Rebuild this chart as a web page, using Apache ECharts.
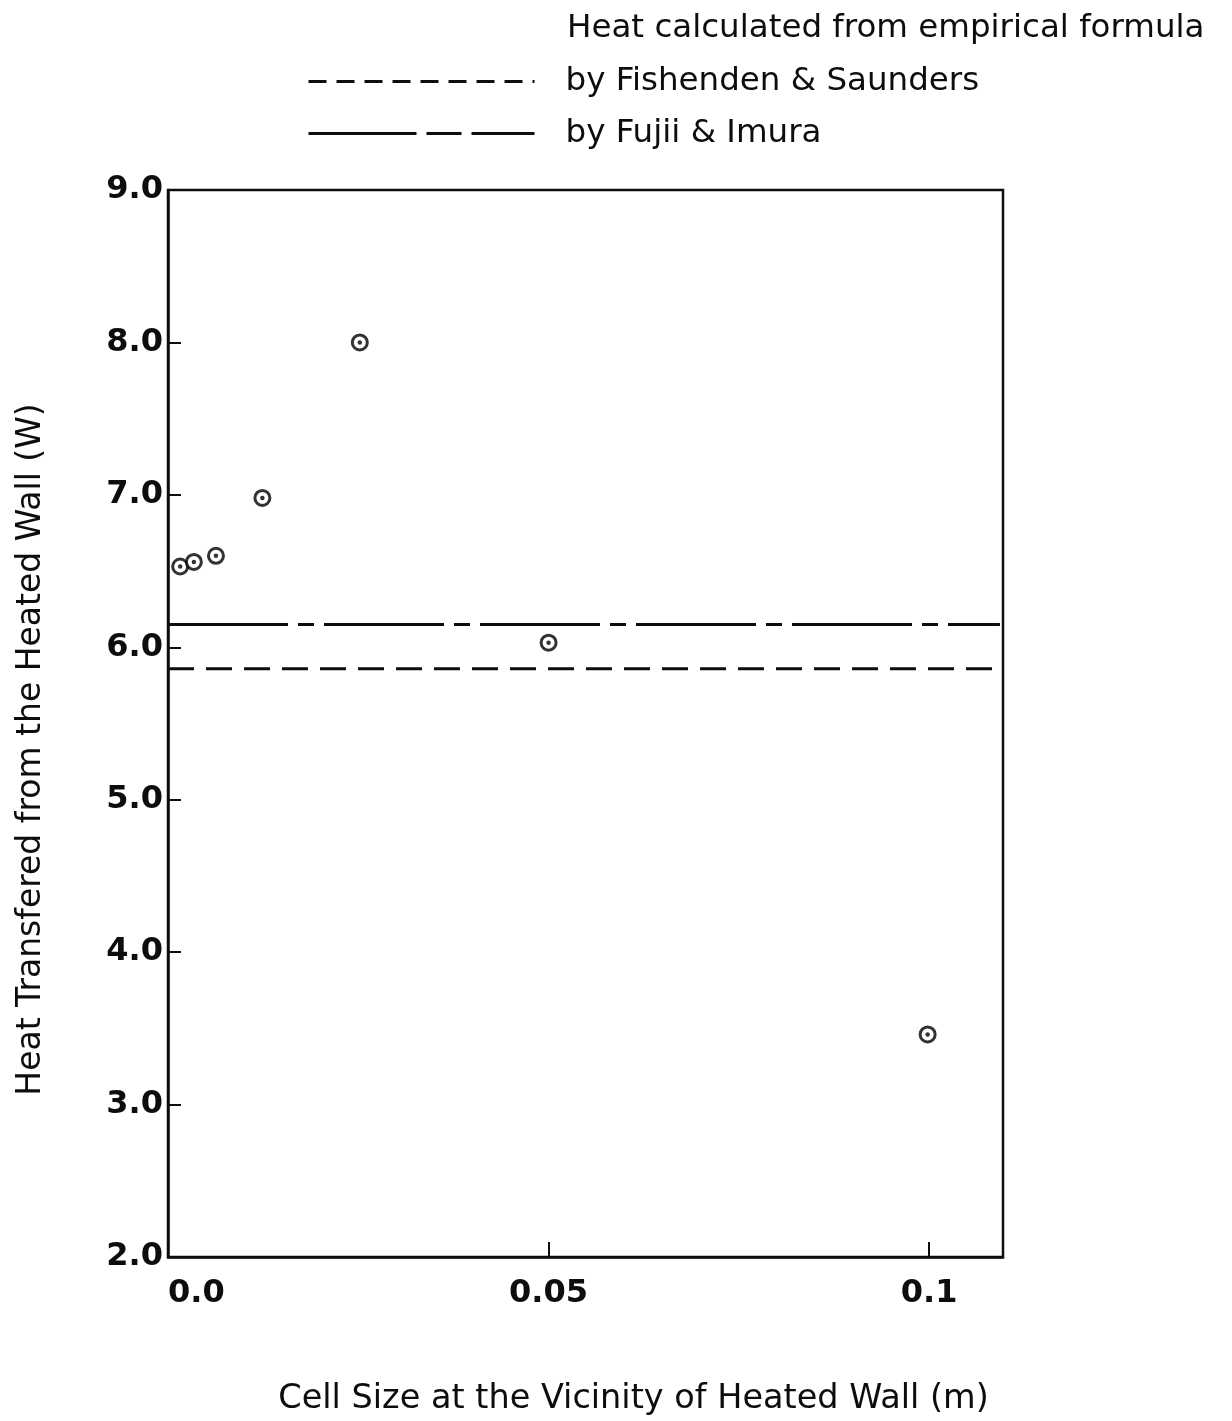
<!DOCTYPE html>
<html>
<head>
<meta charset="utf-8">
<script src="https://cdn.jsdelivr.net/npm/echarts@6/dist/echarts.min.js"></script>
<style>
html,body{margin:0;padding:0;background:#fff;}
#chart{width:1232px;height:1421px;}
</style>
</head>
<body>
<div id="chart"></div>
<script>
// ---- data ----
const cellSize = [0.0016, 0.0034, 0.0063, 0.0124, 0.0252, 0.05, 0.0998];
const heatTransfer = [6.53, 6.56, 6.60, 6.98, 8.00, 6.03, 3.46];
const fishendenValue = 5.86;
const fujiiValue = 6.15;
const fishendenRange = [0, 0.1085];
const fujiiRange = [0, 0.1093];
const xTickLabels = {'0': '0.0', '0.05': '0.05', '0.1': '0.1'};
const seriesNames = ['by Fishenden & Saunders', 'by Fujii & Imura'];
const legendHeading = 'Heat calculated from empirical formula';
const xTitle = 'Cell Size at the Vicinity of Heated Wall (m)';
const yTitle = 'Heat Transfered from the Heated Wall (W)';

const FONT = 'DejaVu Sans';
const INK = '#0d0d0d';

const chart = echarts.init(document.getElementById('chart'), null, {renderer: 'canvas'});
const pts = cellSize.map((x, i) => [x, heatTransfer[i]]);

chart.setOption({
  backgroundColor: '#fff',
  animation: false,
  title: {
    text: legendHeading,
    left: 562, top: 7,
    textStyle: {fontFamily: FONT, fontSize: 32.5, fontWeight: 'normal', color: INK}
  },
  legend: {
    data: [
      {name: seriesNames[0], itemStyle: {opacity: 0}, lineStyle: {type: [18, 10], width: 3, color: INK}},
      {name: seriesNames[1], itemStyle: {opacity: 0}, lineStyle: {type: [108, 10, 35, 10], width: 3, color: INK}}
    ],
    orient: 'vertical',
    left: 302, top: 60,
    itemWidth: 226, itemHeight: 16, itemGap: 19,
    textStyle: {fontFamily: FONT, fontSize: 32.5, color: INK, padding: [0, 0, 0, 26]},
    selectedMode: false
  },
  grid: {
    left: 168, top: 190, width: 835, height: 1069,
    show: true, borderColor: INK, borderWidth: 2.5, containLabel: false
  },
  xAxis: {
    type: 'value', min: 0, max: 0.1097, interval: 0.05,
    axisLine: {show: true, onZero: false, lineStyle: {color: INK, width: 2.5}},
    axisTick: {show: true, inside: true, length: 15, lineStyle: {color: INK, width: 2}},
    splitLine: {show: false},
    axisLabel: {
      fontFamily: FONT, fontSize: 32, fontWeight: 'bold', color: INK, margin: 21,
      showMaxLabel: false, alignMinLabel: 'left',
      formatter: v => { const k = String(Math.round(v * 1000) / 1000); return xTickLabels[k] !== undefined ? xTickLabels[k] : ''; }
    },
    name: xTitle, nameLocation: 'middle', nameGap: 125,
    nameTextStyle: {fontFamily: FONT, fontSize: 33.5, color: INK, padding: [0, 0, 0, 96]}
  },
  yAxis: {
    type: 'value', min: 2, max: 9, interval: 1,
    axisLine: {show: true, lineStyle: {color: INK, width: 2.5}},
    axisTick: {show: true, inside: true, length: 13, lineStyle: {color: INK, width: 2}},
    splitLine: {show: false},
    axisLabel: {fontFamily: FONT, fontSize: 32, fontWeight: 'bold', color: INK, margin: 5, formatter: v => v.toFixed(1)},
    name: yTitle, nameLocation: 'middle', nameGap: 120, nameRotate: 90,
    nameTextStyle: {fontFamily: FONT, fontSize: 33, color: INK, padding: [0, 52, 0, 0]}
  },
  series: [
    {
      name: seriesNames[0], type: 'line', symbol: 'none',
      data: fishendenRange.map(x => [x, fishendenValue]),
      lineStyle: {color: INK, width: 3, type: [26, 12]},
      itemStyle: {color: INK}
    },
    {
      name: seriesNames[1], type: 'line', symbol: 'none',
      data: fujiiRange.map(x => [x, fujiiValue]),
      lineStyle: {color: INK, width: 3, type: [120, 10, 16, 10]},
      itemStyle: {color: INK}
    },
    {
      name: 'ring', type: 'scatter', data: pts, symbol: 'circle', symbolSize: 15,
      itemStyle: {color: '#fff', borderColor: '#000', borderWidth: 3}, z: 5
    },
    {
      name: 'dot', type: 'scatter', data: pts, symbol: 'circle', symbolSize: 4.5,
      itemStyle: {color: '#000'}, z: 6
    }
  ]
});
</script>
</body>
</html>
